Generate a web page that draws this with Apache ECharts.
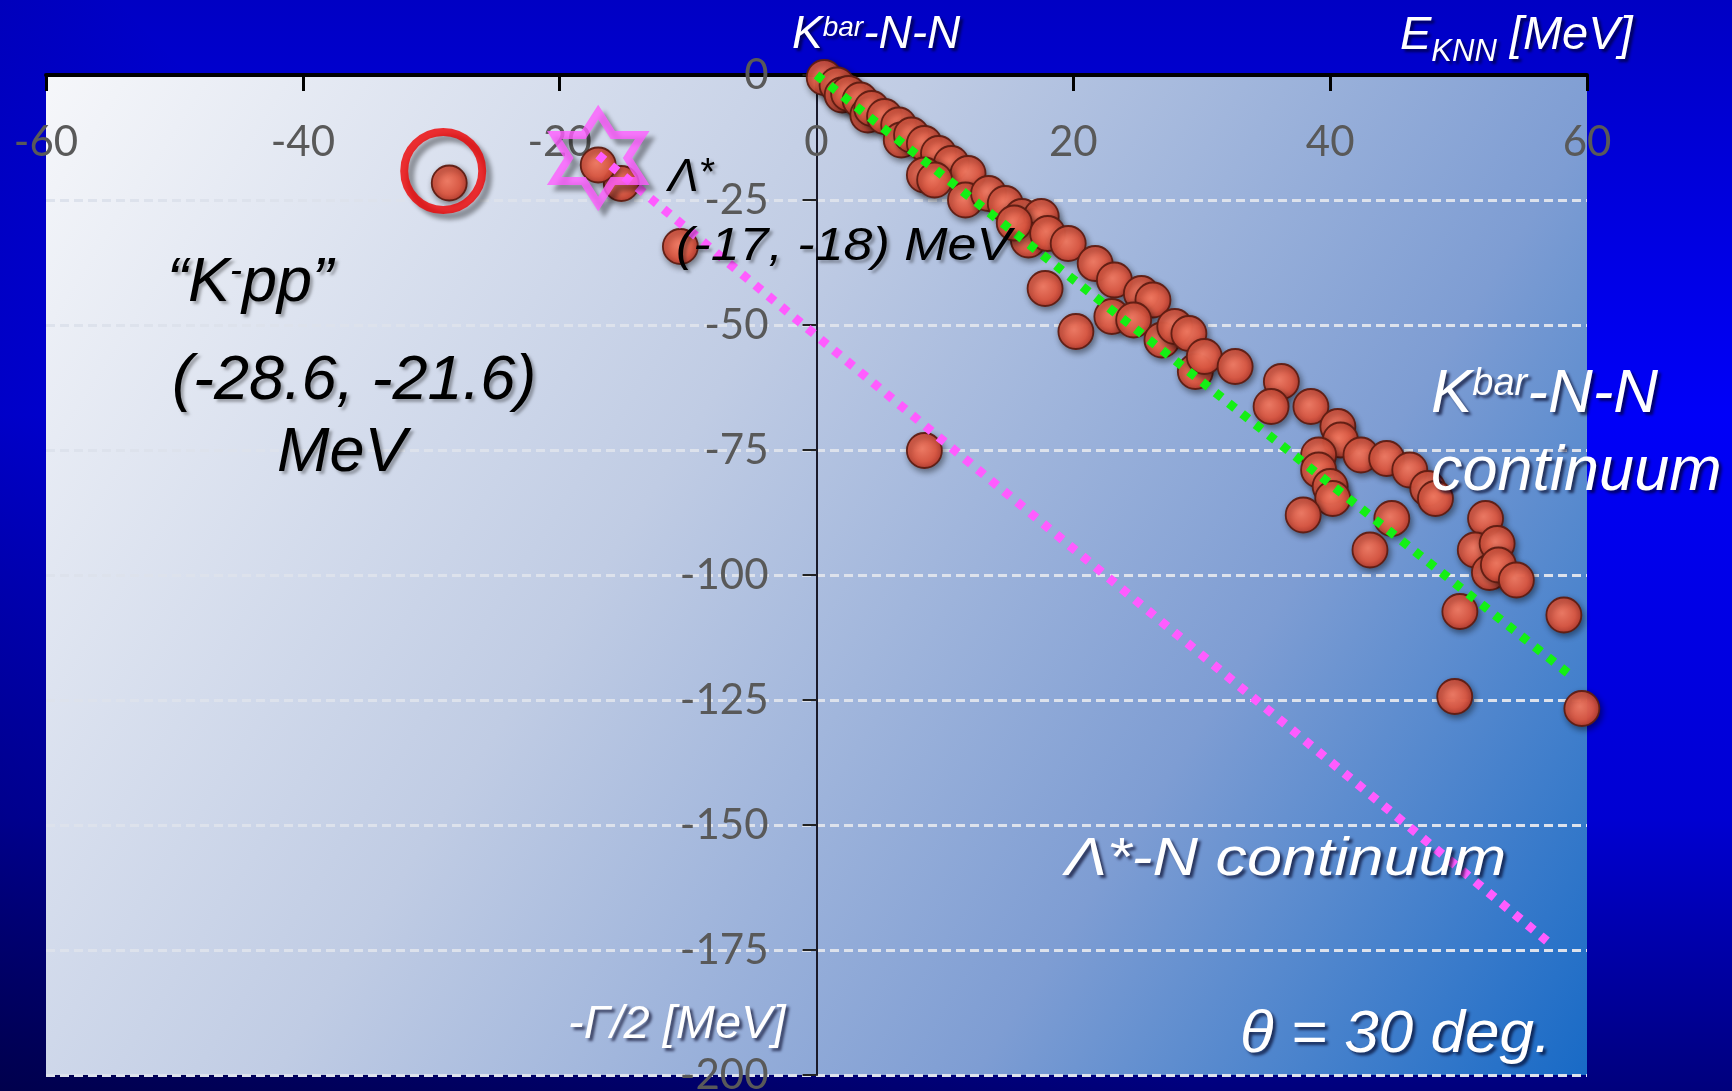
<!DOCTYPE html>
<html>
<head>
<meta charset="utf-8">
<title>K̄NN poles</title>
<script src="https://cdn.jsdelivr.net/npm/echarts@6.0.0/dist/echarts.min.js"></script>
<style>
  html, body { margin: 0; padding: 0; width: 1732px; height: 1091px; overflow: hidden; background: #0000c0; }
  #chart { width: 1732px; height: 1091px; }
</style>
</head>
<body>
<div id="chart"></div>
<script>
// Axis ranges and tick steps
const xRange = [-60, 60];
const xStep = 20;
const yRange = [-200, 0];
const yStep = 25;

// Pole positions (E_KNN, -Γ/2) in MeV
const kppPole = [[-28.6, -21.6]];
const lambdaPole = [[-17, -18]];
const leftPoles = [[-15.2, -21.7], [-10.6, -34.3], [8.4, -75.1]];
const chainPoles = [
  [0.6, -0.5], [1.6, -2.0], [2.0, -4.0], [2.5, -3.7], [3.4, -5.0], [4.0, -8.0], [4.3, -6.7],
  [5.3, -8.3], [6.4, -10.0], [6.6, -13.0], [7.4, -12.0], [8.4, -13.7], [9.5, -15.7],
  [10.5, -17.7], [11.8, -19.7], [8.4, -20.0], [9.2, -21.0], [11.6, -25.0], [13.4, -23.7],
  [14.7, -25.7], [16.0, -28.3], [17.0, -30.3], [17.5, -28.3], [16.5, -33.0], [15.4, -29.6],
  [18.0, -31.7], [19.6, -33.7], [17.8, -42.7], [20.2, -51.3], [21.7, -37.7], [23.2, -41.0],
  [25.3, -43.7], [26.2, -45.0], [23.0, -48.3], [24.7, -49.0], [26.9, -53.0], [27.9, -50.3],
  [29.0, -51.7], [29.5, -59.3], [30.2, -56.3], [32.6, -58.3], [36.2, -61.3], [35.4, -66.3]
];
const farPoles = [
  [38.5, -66.3], [40.6, -70.3], [40.8, -73.0], [39.1, -76.0], [39.1, -79.0], [40.0, -82.3],
  [40.2, -84.7], [37.9, -88.0], [42.4, -76.0], [44.4, -76.7], [46.2, -79.0], [47.6, -82.7],
  [48.2, -84.7], [44.8, -88.7], [43.1, -95.0], [52.1, -88.7], [51.3, -95.0], [52.4, -99.5],
  [53.0, -93.7], [53.1, -98.0], [54.5, -101.0], [50.1, -107.3], [58.2, -108.0], [60.1, -111.0],
  [49.7, -124.3], [59.6, -126.7]
];

// Threshold lines: K̄NN continuum and Λ*N continuum
const kbarNNLine = [[0, 0], [58.7, -120]];
const lambdaNLine = [[-17, -16], [57.4, -174.3]];

// Plot frame
const GRID = { left: 46, right: 145, top: 75, bottom: 16 };
const PAGE_W = 1732;
const plotWidth = PAGE_W - GRID.left - GRID.right;
// vertical axis sits on E = 0
const yAxisShift = -plotWidth * (0 - xRange[0]) / (xRange[1] - xRange[0]);

const ITALIC = "'Liberation Sans', Arial, sans-serif";

const sphereStyle = {
  color: {
    type: 'radial', x: 0.45, y: 0.45, r: 0.6,
    colorStops: [
      { offset: 0, color: '#f27a62' },
      { offset: 0.6, color: '#dd5842' },
      { offset: 1, color: '#b8382a' }
    ]
  },
  borderColor: '#5e1c12',
  borderWidth: 1.8,
  opacity: 0.95,
  shadowBlur: 6,
  shadowColor: 'rgba(0,0,0,0.45)',
  shadowOffsetX: 2,
  shadowOffsetY: 3
};

const hexagram = 'path://M50,0L64.43,25L93.3,25L78.87,50L93.3,75L64.43,75L50,100L35.57,75L6.7,75L21.13,50L6.7,25L35.57,25Z';

// Text helper: left edge and baseline in pixels
function label(left, baseline, size, text, color, extra) {
  extra = extra || {};
  const shadow = color === '#fff'
    ? { textShadowColor: 'rgba(0,0,30,0.65)', textShadowBlur: 3, textShadowOffsetX: 3, textShadowOffsetY: 3 }
    : { textShadowColor: 'rgba(0,0,0,0.3)', textShadowBlur: 3, textShadowOffsetX: 3, textShadowOffsetY: 3 };
  const style = Object.assign({
    x: 0,
    y: -0.32 * size,
    text: text,
    fill: color,
    font: 'italic ' + size + 'px ' + ITALIC,
    align: 'left',
    verticalAlign: 'middle'
  }, shadow);
  if (extra.rich) {
    const rich = {};
    Object.keys(extra.rich).forEach(function (k) {
      rich[k] = Object.assign({
        fontFamily: ITALIC, fontStyle: 'italic', color: color
      }, shadow, extra.rich[k]);
    });
    style.rich = rich;
  }
  return {
    type: 'text',
    x: left,
    y: baseline,
    scaleY: extra.scaleY || 1,
    silent: true,
    z: 100,
    style: style
  };
}

const chart = echarts.init(document.getElementById('chart'), null, { renderer: 'canvas' });

const option = {
  animation: false,
  backgroundColor: {
    type: 'linear', x: 0, y: 0, x2: 0, y2: 1,
    colorStops: [
      { offset: 0, color: '#0000c4' },
      { offset: 0.38, color: '#0000f8' },
      { offset: 0.75, color: '#0000d2' },
      { offset: 1, color: '#00007c' }
    ]
  },
  grid: {
    left: GRID.left, right: GRID.right, top: GRID.top, bottom: GRID.bottom,
    show: true,
    borderWidth: 0,
    backgroundColor: {
      type: 'linear', x: 0, y: 0, x2: 1, y2: 1,
      colorStops: [
        { offset: 0, color: '#f6f7fa' },
        { offset: 0.4, color: '#c0cce4' },
        { offset: 0.72, color: '#7e9dd3' },
        { offset: 1, color: '#186ac6' }
      ]
    },
    outerBoundsMode: 'none'
  },
  xAxis: {
    type: 'value',
    min: xRange[0], max: xRange[1], interval: xStep,
    position: 'top',
    axisLine: { show: true, onZero: false, lineStyle: { color: '#000', width: 4 } },
    axisTick: { show: true, inside: true, length: 16, lineStyle: { color: '#000', width: 3 } },
    axisLabel: { inside: true, margin: 46, color: '#595959', fontFamily: 'Lato', fontSize: 42 },
    splitLine: { show: false }
  },
  yAxis: {
    type: 'value',
    min: yRange[0], max: yRange[1], interval: yStep,
    position: 'left',
    offset: yAxisShift,
    axisLine: { show: true, onZero: false, lineStyle: { color: '#1a1a2a', width: 2 } },
    axisTick: { show: true, length: 14, lineStyle: { color: '#222', width: 2 } },
    axisLabel: { show: true, margin: 48, color: '#595959', fontFamily: 'Lato', fontSize: 42 },
    splitLine: { show: true, lineStyle: { color: '#dde2ec', width: 3, type: [9, 5] } }
  },
  series: [
    {
      name: 'poles', type: 'scatter', silent: true, z: 3,
      symbolSize: 35,
      itemStyle: sphereStyle,
      data: chainPoles.concat(farPoles, leftPoles, lambdaPole, kppPole)
    },
    {
      name: 'K̄NN continuum', type: 'line', silent: true, z: 4,
      symbol: 'none',
      lineStyle: { color: '#14f014', width: 9, type: [8, 9], cap: 'butt' },
      data: kbarNNLine
    },
    {
      name: 'Λ*N continuum', type: 'line', silent: true, z: 4,
      symbol: 'none',
      lineStyle: { color: '#ff5cff', width: 9, type: [8, 9], cap: 'butt' },
      data: lambdaNLine
    },
    {
      name: 'Λ* marker', type: 'scatter', silent: true, z: 5,
      symbol: hexagram, symbolSize: [88, 92], symbolOffset: [0, -7],
      itemStyle: {
        color: 'rgba(0,0,0,0)', borderColor: '#ff5cff', borderWidth: 8,
        shadowBlur: 4, shadowColor: 'rgba(0,0,0,0.45)', shadowOffsetX: 6, shadowOffsetY: 6
      },
      data: lambdaPole
    },
    {
      name: 'K-pp marker', type: 'scatter', silent: true, z: 5,
      symbol: 'circle', symbolSize: 78, symbolOffset: [-6, -12],
      itemStyle: {
        color: 'rgba(0,0,0,0)', borderColor: '#ee0000', borderWidth: 8,
        shadowBlur: 4, shadowColor: 'rgba(0,0,0,0.45)', shadowOffsetX: 6, shadowOffsetY: 6
      },
      data: kppPole
    }
  ],
  graphic: [
    {
      type: 'rect', silent: true, z: -10,
      shape: { x: 0, y: 0, width: PAGE_W, height: 1091 },
      style: {
        fill: {
          type: 'linear', x: 0, y: 1, x2: 0.35, y2: 0.45,
          colorStops: [
            { offset: 0, color: 'rgba(0,0,30,0.5)' },
            { offset: 1, color: 'rgba(0,0,30,0)' }
          ]
        }
      }
    },
    label(792, 50, 46, '{m|K}{s|bar}{m|-N-N}', '#fff', {
      rich: { m: { fontSize: 46 }, s: { fontSize: 28, padding: [0, 0, 15, 0] } }
    }),
    label(1400, 51, 47, '{m|E}{b|KNN}{m| [MeV]}', '#fff', {
      rich: { m: { fontSize: 47 }, b: { fontSize: 31, padding: [33, 0, 0, 0] } }
    }),
    label(668, 193, 46, '{m|Λ}{s|*}', '#000', {
      rich: { m: { fontSize: 46 }, s: { fontSize: 38, padding: [0, 0, 8, 0] } }
    }),
    label(676, 262, 52, '(-17, -18) MeV', '#000', { scaleY: 0.9 }),
    label(167, 304, 63, '{m|“K}{s|-}{m|pp”}', '#000', {
      rich: { m: { fontSize: 63 }, s: { fontSize: 36, padding: [0, 0, 24, 0] } }
    }),
    label(172, 402, 63, '(-28.6, -21.6)', '#000'),
    label(277, 474, 63, 'MeV', '#000'),
    label(1431, 415, 62, '{m|K}{s|bar}{m|-N-N}', '#fff', {
      rich: { m: { fontSize: 62 }, s: { fontSize: 38, padding: [0, 0, 22, 0] } }
    }),
    label(1431, 493, 63, 'continuum', '#fff'),
    label(1065, 877, 63, 'Λ*-N continuum', '#fff', { scaleY: 0.84 }),
    label(1240, 1054, 62, 'θ = 30 deg.', '#fff', { scaleY: 0.95 }),
    label(568, 1040, 47, '-Γ/2 [MeV]', '#fff')
  ]
};

chart.setOption(option);
</script>
</body>
</html>
